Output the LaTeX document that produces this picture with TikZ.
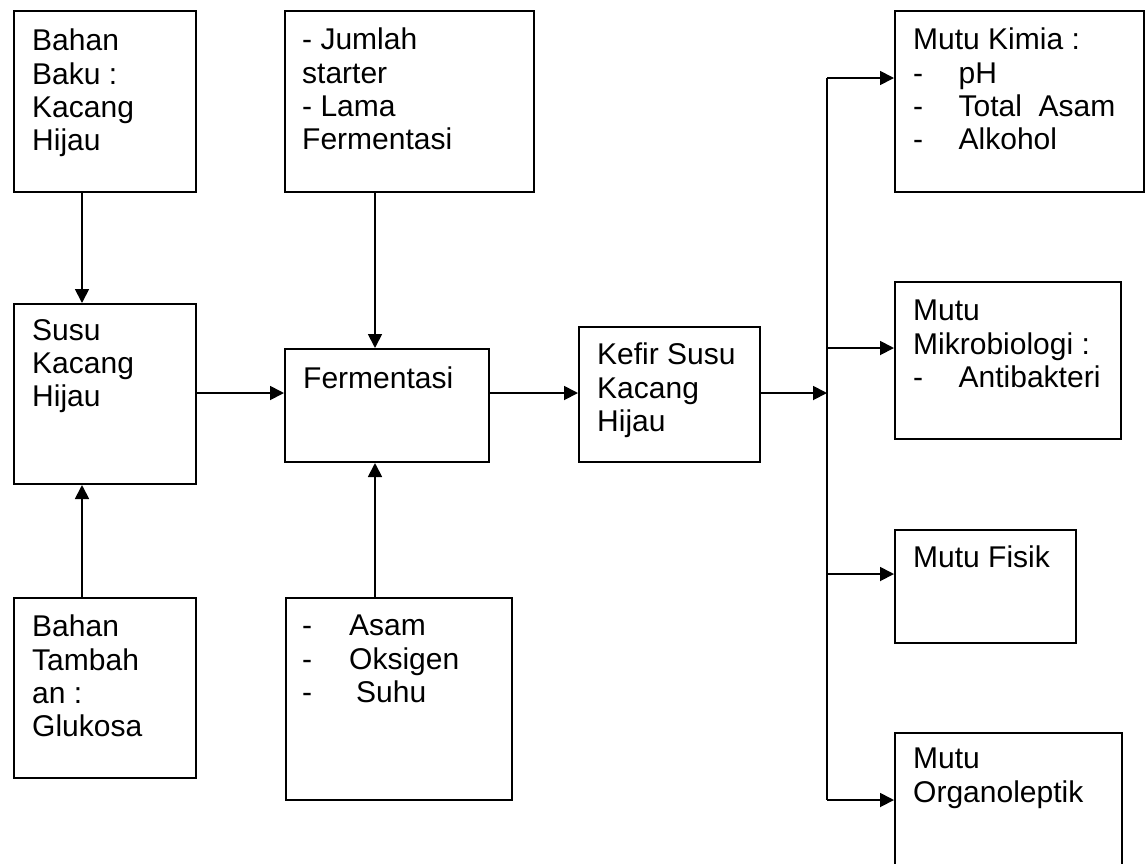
\documentclass[tikz,border=0pt]{standalone}
\usepackage{fontspec}
\setmainfont{Liberation Sans}
\usetikzlibrary{arrows.meta}
\begin{document}
\begin{tikzpicture}[x=1pt,y=-1pt,
  box/.style={draw, line width=2pt, rectangle, inner sep=0pt, anchor=north west},
  txt/.style={inner sep=0pt, anchor=north west, align=left, font=\fontsize{30}{33.3}\selectfont},
  arr/.style={line width=1.8pt, -{Triangle[length=14pt,width=14pt]}},
  ln/.style={line width=1.8pt}]
\useasboundingbox (0,0) rectangle (1147,863);
\clip (0,0) rectangle (1147,863);
% boxes
\node[box, minimum width=182pt, minimum height=181pt] (A) at (13,9.5) {};
\node[box, minimum width=182pt, minimum height=180pt] (B) at (13,303) {};
\node[box, minimum width=182pt, minimum height=180pt] (C) at (13,597) {};
\node[box, minimum width=249pt, minimum height=181pt] (D) at (284,9.5) {};
\node[box, minimum width=204pt, minimum height=113pt] (E) at (284,348) {};
\node[box, minimum width=226pt, minimum height=202pt] (F) at (285,597) {};
\node[box, minimum width=181pt, minimum height=135pt] (G) at (578,326) {};
\node[box, minimum width=249pt, minimum height=181pt] (H) at (894,10) {};
\node[box, minimum width=226pt, minimum height=157pt] (I) at (894,281) {};
\node[box, minimum width=181pt, minimum height=113pt] (J) at (894,529) {};
\node[box, minimum width=227pt, minimum height=160pt] (K) at (894,732) {};
% texts
\node[txt] (At) at (32,29) {Bahan\\Baku :\\Kacang\\Hijau};
\node[txt] (Bt) at (32,319) {Susu\\Kacang\\Hijau};
\node[txt] (Ct) at (32,615) {Bahan\\Tambah\\an :\\Glukosa};
\node[txt] (Dt) at (302,28) {- Jumlah\\starter\\- Lama\\Fermentasi};
\node[txt] (Et) at (303,366.5) {Fermentasi};
\node[txt] (Ft) at (302,615) {\makebox[47pt][l]{-}Asam\\\makebox[47pt][l]{-}Oksigen\\\makebox[54pt][l]{-}Suhu};
\node[txt] (Gt) at (597,343) {Kefir Susu\\Kacang\\Hijau};
\node[txt] (Ht) at (913,28) {Mutu Kimia :\\\makebox[45.5pt][l]{-}pH\\\makebox[45.5pt][l]{-}Total~~Asam\\\makebox[45.5pt][l]{-}Alkohol};
\node[txt] (It) at (913,300) {Mutu\\Mikrobiologi :\\\makebox[45.5pt][l]{-}Antibakteri};
\node[txt] (Jt) at (913,546) {Mutu Fisik};
\node[txt] (Kt) at (913,748) {Mutu\\Organoleptik};
% helper coordinates
\coordinate (xa) at (82,0);
\coordinate (xd) at (375,0);
\coordinate (ymid) at (0,393);
\coordinate (vtop) at (827,78);
\coordinate (vI) at (827,348);
\coordinate (vJ) at (827,574);
\coordinate (vbot) at (827,800);
% connectors
\draw[arr] (A.south -| xa) -- (B.north -| xa);
\draw[arr] (C.north -| xa) -- (B.south -| xa);
\draw[arr] (B.east |- ymid) -- (E.west |- ymid);
\draw[arr] (D.south -| xd) -- (E.north -| xd);
\draw[arr] (F.north -| xd) -- (E.south -| xd);
\draw[arr] (E.east |- ymid) -- (G.west |- ymid);
\draw[arr] (G.east |- ymid) -- (vtop |- ymid);
\draw[ln] (vtop) -- (vbot);
\draw[arr] (vtop) -- (vtop -| H.west);
\draw[arr] (vI) -- (vI -| I.west);
\draw[arr] (vJ) -- (vJ -| J.west);
\draw[arr] (vbot) -- (vbot -| K.west);
\end{tikzpicture}
\end{document}
